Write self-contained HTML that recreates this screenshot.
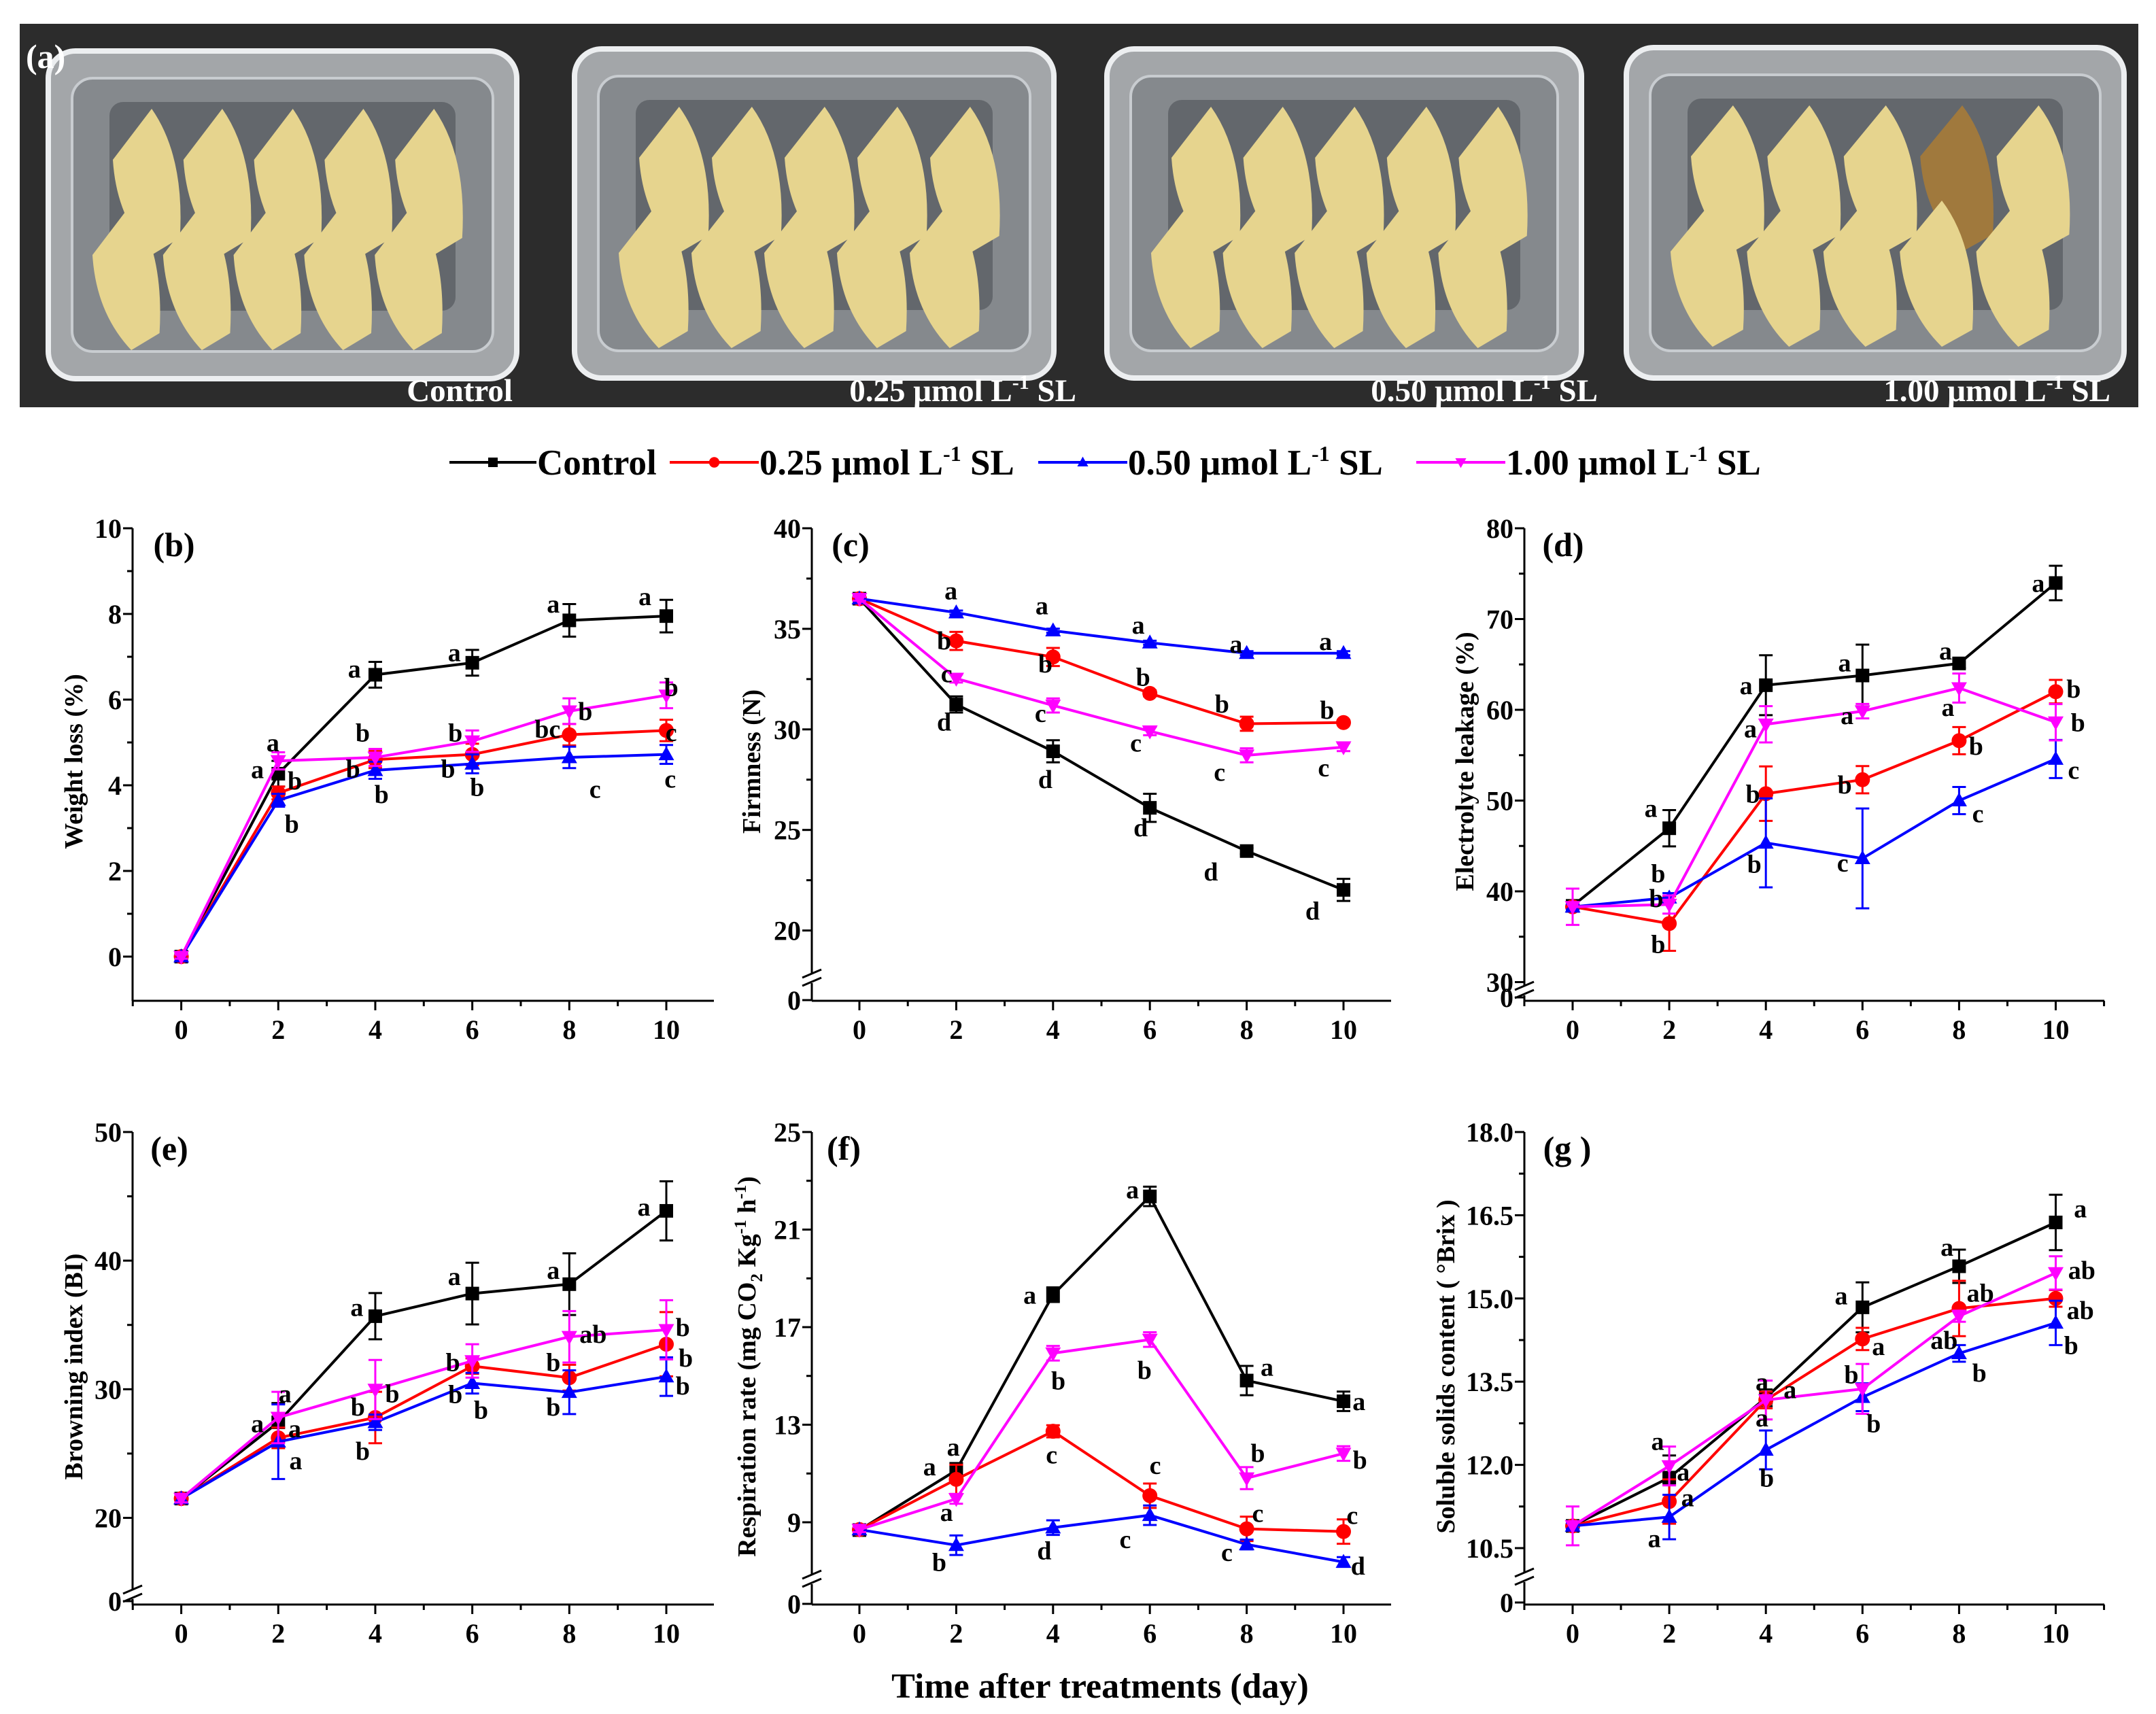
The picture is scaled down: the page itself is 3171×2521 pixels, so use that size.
<!DOCTYPE html>
<html><head><meta charset="utf-8"><style>
html,body{margin:0;padding:0;background:#fff;}
svg{display:block;font-family:"Liberation Serif",serif;font-weight:bold;}
</style></head><body>
<svg id="fig" width="3171" height="2521" viewBox="0 0 3171 2521" xmlns="http://www.w3.org/2000/svg">
<g id="photo"></g>
<g id="legend"></g>
<g id="charts"></g>
<text x="1618" y="2497" font-size="52" text-anchor="middle">Time after treatments (day)</text>
</svg>
<script>
const days=[0,2,4,6,8,10];
// (b) weight loss
const wlControl=[0,4.27,6.58,6.86,7.85,7.95];
const wlControlErr=[0.05,0.3,0.3,0.3,0.38,0.38];
const wl025=[0,3.82,4.6,4.72,5.18,5.28];
const wl025Err=[0.05,0.15,0.2,0.25,0.25,0.25];
const wl050=[0,3.65,4.35,4.5,4.65,4.72];
const wl050Err=[0.05,0.15,0.2,0.22,0.25,0.22];
const wl100=[0,4.57,4.65,5.03,5.73,6.1];
const wl100Err=[0.05,0.2,0.2,0.25,0.3,0.3];
const wlLetters=[[1.89,5.0,'a'],[1.57,4.37,'a'],[2.34,4.11,'b'],[2.28,3.1,'b'],[3.74,5.23,'b'],[3.54,4.39,'b'],[4.13,3.79,'b'],[3.57,6.72,'a'],[5.63,7.1,'a'],[5.65,5.23,'b'],[5.5,4.39,'b'],[6.1,3.96,'b'],[7.67,8.24,'a'],[8.33,5.73,'b'],[7.55,5.32,'bc'],[8.53,3.91,'c'],[9.56,8.41,'a'],[10.1,6.29,'b'],[10.1,5.24,'c'],[10.08,4.15,'c']];
// (c) firmness
const fmControl=[36.5,31.24,28.91,26.1,23.95,22.02];
const fmControlErr=[0.1,0.4,0.55,0.7,0.15,0.55];
const fm025=[36.5,34.4,33.6,31.79,30.28,30.34];
const fm025Err=[0.1,0.45,0.45,0.15,0.35,0.12];
const fm050=[36.5,35.81,34.91,34.31,33.79,33.79];
const fm050Err=[0.1,0.1,0.1,0.1,0.1,0.1];
const fm100=[36.5,32.53,31.19,29.91,28.71,29.12];
const fm100Err=[0.1,0.2,0.35,0.2,0.35,0.2];
const fmLetters=[[1.89,36.9,'a'],[1.75,34.43,'b'],[1.8,32.79,'c'],[1.75,30.38,'d'],[3.77,36.16,'a'],[3.84,33.28,'b'],[3.74,30.81,'c'],[3.84,27.53,'d'],[5.76,35.2,'a'],[5.86,32.62,'b'],[5.71,29.34,'c'],[5.81,25.12,'d'],[7.78,34.26,'a'],[7.49,31.28,'b'],[7.44,27.88,'c'],[7.26,22.93,'d'],[9.63,34.38,'a'],[9.66,30.98,'b'],[9.59,28.1,'c'],[9.36,20.98,'d']];
// (d) electrolyte leakage
const elControl=[38.4,46.95,62.71,63.78,65.11,73.97];
const elControlErr=[0.3,2.0,3.3,3.4,0.5,1.9];
const el025=[38.3,36.45,50.76,52.3,56.6,62.0];
const el025Err=[0.3,3.0,3.0,1.5,1.5,1.3];
const el050=[38.3,39.3,45.34,43.63,50.0,54.58];
const el050Err=[0.3,0.5,4.9,5.5,1.5,2.1];
const el100=[38.3,38.55,58.4,59.85,62.4,58.63];
const el100Err=[2.0,1.0,2.0,0.8,1.6,2.0];
const elLetters=[[1.62,49.16,'a'],[1.77,41.98,'b'],[1.73,39.24,'b'],[1.77,34.2,'b'],[3.59,62.71,'a'],[3.68,57.94,'a'],[3.73,50.76,'b'],[3.76,43.05,'b'],[5.63,65.19,'a'],[5.68,59.39,'a'],[5.63,51.76,'b'],[5.59,43.13,'c'],[7.72,66.53,'a'],[7.77,60.31,'a'],[8.35,56.03,'b'],[8.39,48.59,'c'],[9.64,73.97,'a'],[10.37,62.33,'b'],[10.46,58.63,'b'],[10.37,53.36,'c']];
// (e) browning index
const biControl=[21.5,27.43,35.68,37.44,38.17,43.87];
const biControlErr=[0.3,1.5,1.8,2.4,2.4,2.3];
const bi025=[21.5,26.22,27.8,31.8,30.9,33.5];
const bi025Err=[0.3,0.8,2.0,0.6,1.0,2.5];
const bi050=[21.5,25.92,27.43,30.47,29.77,30.98];
const bi050Err=[0.3,2.9,0.6,0.8,1.7,1.5];
const bi100=[21.5,27.8,29.98,32.2,34.08,34.62];
const bi100Err=[0.3,2.0,2.3,1.3,2.0,2.3];
const biLetters=[[2.14,29.68,'a'],[1.57,27.34,'a'],[2.34,26.95,'a'],[2.36,24.46,'a'],[3.62,36.38,'a'],[4.35,29.68,'b'],[3.64,28.65,'b'],[3.74,25.22,'b'],[5.63,38.78,'a'],[5.6,32.1,'b'],[5.65,29.62,'b'],[6.18,28.4,'b'],[7.67,39.26,'a'],[8.49,34.29,'ab'],[7.67,32.1,'b'],[7.67,28.65,'b'],[9.54,44.18,'a'],[10.34,34.84,'b'],[10.4,32.44,'b'],[10.34,30.29,'b']];
// (f) respiration rate
const rrControl=[8.68,11.13,18.33,22.36,14.81,13.96];
const rrControlErr=[0.1,0.3,0.3,0.4,0.6,0.4];
const rr025=[8.7,10.76,12.73,10.09,8.73,8.62];
const rr025Err=[0.1,0.6,0.25,0.5,0.5,0.5];
const rr050=[8.7,8.06,8.78,9.29,8.09,7.37];
const rr050Err=[0.1,0.4,0.3,0.4,0.2,0.2];
const rr100=[8.7,9.96,15.93,16.49,10.81,11.82];
const rr100Err=[0.1,0.2,0.3,0.3,0.45,0.3];
const rrLetters=[[1.94,12.09,'a'],[1.45,11.29,'a'],[1.8,9.42,'a'],[1.65,7.37,'b'],[3.52,18.33,'a'],[4.11,14.81,'b'],[3.97,11.77,'c'],[3.82,7.85,'d'],[5.64,22.65,'a'],[5.89,15.24,'b'],[6.11,11.34,'c'],[5.49,8.3,'c'],[8.42,15.37,'a'],[8.23,11.85,'b'],[8.23,9.37,'c'],[7.59,7.77,'c'],[10.32,13.96,'a'],[10.34,11.56,'b'],[10.18,9.29,'c'],[10.3,7.21,'d']];
// (g) soluble solids
const ssControl=[10.9,11.77,13.21,14.84,15.58,16.37];
const ssControlErr=[0.05,0.4,0.15,0.45,0.3,0.5];
const ss025=[10.9,11.34,13.17,14.27,14.82,15.0];
const ss025Err=[0.05,0.4,0.15,0.2,0.5,0.15];
const ss050=[10.9,11.06,12.27,13.22,14.01,14.56];
const ss050Err=[0.05,0.4,0.35,0.25,0.15,0.4];
const ss100=[10.9,11.98,13.17,13.37,14.68,15.46];
const ss100Err=[0.35,0.35,0.35,0.45,0.1,0.3];
const ssLetters=[[1.76,12.43,'a'],[2.29,11.88,'a'],[2.38,11.41,'a'],[1.69,10.68,'a'],[3.92,13.5,'a'],[4.5,13.36,'a'],[3.92,12.85,'a'],[4.02,11.77,'b'],[5.56,15.05,'a'],[6.33,14.14,'a'],[5.77,13.63,'b'],[6.23,12.75,'b'],[7.75,15.93,'a'],[8.44,15.1,'ab'],[7.69,14.25,'ab'],[8.42,13.66,'b'],[10.51,16.62,'a'],[10.54,15.51,'ab'],[10.51,14.79,'ab'],[10.32,14.16,'b']];

const xTickLabels=['0','2','4','6','8','10'];
const seriesNames=['control','sl-0.25','sl-0.50','sl-1.00'];
const colors=['#000000','#ff0000','#0000ff','#ff00ff'];
const NS='http://www.w3.org/2000/svg';
function mk(tag,attrs,parent){const e=document.createElementNS(NS,tag);for(const k in attrs)e.setAttribute(k,attrs[k]);parent.appendChild(e);return e;}

function marker(g,kind,cx,cy,s,color){
  let m;
  if(kind===0)m=mk('rect',{x:cx-s,y:cy-s,width:2*s,height:2*s,fill:color},g);
  else if(kind===1)m=mk('circle',{cx:cx,cy:cy,r:s*1.1,fill:color},g);
  else if(kind===2)m=mk('polygon',{points:`${cx},${cy-s*1.2} ${cx-s*1.15},${cy+s*0.85} ${cx+s*1.15},${cy+s*0.85}`,fill:color},g);
  else m=mk('polygon',{points:`${cx},${cy+s*1.2} ${cx-s*1.15},${cy-s*0.85} ${cx+s*1.15},${cy-s*0.85}`,fill:color},g);
  return m;
}

const panels=[
 {id:'b',label:'(b)',lx:256,ly:818,title:'Weight loss (%)',tx:109,ty:1120,xl:195,xr:1050,x0:266.6,x10:980,axY:1472,top:777,vA:10,yA:777,vB:0,yB:1407,
  ticks:[0,2,4,6,8,10],minor:[1,3,5,7,9],fmt:v=>String(v),brk:null,zeroY:null,
  series:[[wlControl,wlControlErr],[wl025,wl025Err],[wl050,wl050Err],[wl100,wl100Err]],letters:wlLetters},
 {id:'c',label:'(c)',lx:1251,ly:818,title:'Firmness (N)',tx:1106,ty:1120,xl:1194,xr:2046,x0:1264,x10:1976,axY:1472,top:777,vA:40,yA:777,vB:20,yB:1368.6,
  ticks:[20,25,30,35,40],minor:[22.5,27.5,32.5,37.5],fmt:v=>String(v),brk:1439,zeroY:1471,
  series:[[fmControl,fmControlErr],[fm025,fm025Err],[fm050,fm050Err],[fm100,fm100Err]],letters:fmLetters},
 {id:'d',label:'(d)',lx:2299,ly:818,title:'Electrolyte leakage (%)',tx:2155,ty:1120,xl:2242,xr:3095,x0:2313,x10:3023.5,axY:1472,top:777,vA:80,yA:777,vB:40,yB:1311,
  ticks:[30,40,50,60,70,80],minor:[35,45,55,65,75],fmt:v=>String(v),brk:1457,zeroY:1467,
  series:[[elControl,elControlErr],[el025,el025Err],[el050,el050Err],[el100,el100Err]],letters:elLetters},
 {id:'e',label:'(e)',lx:249,ly:1706,title:'Browning index (BI)',tx:109,ty:2010,xl:195,xr:1050,x0:266.6,x10:980,axY:2360,top:1665,vA:50,yA:1665,vB:20,yB:2232.5,
  ticks:[20,30,40,50],minor:[25,35,45],fmt:v=>String(v),brk:2345,zeroY:2355,
  series:[[biControl,biControlErr],[bi025,bi025Err],[bi050,bi050Err],[bi100,bi100Err]],letters:biLetters},
 {id:'f',label:'(f)',lx:1241,ly:1706,title:'RESP',tx:1099,ty:2010,xl:1194,xr:2046,x0:1264,x10:1976,axY:2360,top:1665,vA:25,yA:1665,vB:9,yB:2239,
  ticks:[9,13,17,21,25],minor:[11,15,19,23],fmt:v=>String(v),brk:2323,zeroY:2359,
  series:[[rrControl,rrControlErr],[rr025,rr025Err],[rr050,rr050Err],[rr100,rr100Err]],letters:rrLetters},
 {id:'g',label:'(g )',lx:2305,ly:1706,title:'Soluble solids content ( °Brix )',tx:2127,ty:2010,xl:2242,xr:3095,x0:2313,x10:3023.5,axY:2360,top:1665,vA:18,yA:1665,vB:10.5,yB:2277,
  ticks:[10.5,12,13.5,15,16.5,18],minor:[11.25,12.75,14.25,15.75,17.25],fmt:v=>v.toFixed(1),brk:2320,zeroY:2357,
  series:[[ssControl,ssControlErr],[ss025,ss025Err],[ss050,ss050Err],[ss100,ss100Err]],letters:ssLetters}
];

const charts=document.getElementById('charts');
panels.forEach(p=>{
  const g=mk('g',{},charts);
  
  
  const X=d=>p.x0+(d-days[0])*(p.x10-p.x0)/(days[days.length-1]-days[0]);
  const Y=v=>p.yA+(v-p.vA)*(p.yB-p.yA)/(p.vB-p.vA);
  const ya=mk('line',{x1:p.xl,y1:p.axY,x2:p.xl,y2:p.top,stroke:'#000','stroke-width':3},g);
  
  
  const xa=mk('line',{x1:p.xl,y1:p.axY,x2:p.xr,y2:p.axY,stroke:'#000','stroke-width':3},g);
  
  
  if(p.brk){
    mk('rect',{x:p.xl-4,y:p.brk-7,width:8,height:14,fill:'#fff'},g);
    const b1=mk('path',{d:`M${p.xl-14},${p.brk-1} L${p.xl+14},${p.brk-13} M${p.xl-14},${p.brk+11} L${p.xl+14},${p.brk-1}`,stroke:'#000','stroke-width':3,fill:'none'},g);
    
    
  }
  p.ticks.forEach(t=>{
    const y=Y(t);
    mk('line',{x1:p.xl-14,y1:y,x2:p.xl,y2:y,stroke:'#000','stroke-width':3},g);
    const tl=mk('text',{x:p.xl-16,y:y+14,'font-size':40,'text-anchor':'end'},g);
    tl.textContent=p.fmt(t);
    
    
  });
  p.minor.forEach(t=>{const y=Y(t);mk('line',{x1:p.xl-8,y1:y,x2:p.xl,y2:y,stroke:'#000','stroke-width':3},g);});
  if(p.zeroY){
    mk('line',{x1:p.xl-14,y1:p.zeroY,x2:p.xl,y2:p.zeroY,stroke:'#000','stroke-width':3},g);
    const zl=mk('text',{x:p.xl-16,y:p.zeroY+14,'font-size':40,'text-anchor':'end'},g);
    zl.textContent='0';
    
    
  }
  for(let d=-1;d<=11;d++){
    const x=X(d);
    if(x<p.xl-1||x>p.xr+1)continue;
    const major=days.indexOf(d)>=0;
    mk('line',{x1:x,y1:p.axY,x2:x,y2:p.axY+(major?14:8),stroke:'#000','stroke-width':3},g);
  }
  days.forEach((d,i)=>{
    const t=mk('text',{x:X(d),y:p.axY+56,'font-size':40,'text-anchor':'middle'},g);
    t.textContent=xTickLabels[i];
    
    
  });
  const lab=mk('text',{x:p.lx,y:p.ly,'font-size':50,'text-anchor':'middle'},g);
  lab.textContent=p.label;
  
  
  const yt=mk('text',{x:p.tx,y:p.ty,'font-size':38,'text-anchor':'middle',transform:`rotate(-90 ${p.tx} ${p.ty})`,dy:12},g);
  if(p.title==='RESP'){
    yt.innerHTML='Respiration rate (mg CO<tspan font-size="25" dy="10">2</tspan><tspan dy="-10"> Kg</tspan><tspan font-size="25" dy="-14">-1</tspan><tspan dy="14"> h</tspan><tspan font-size="25" dy="-14">-1</tspan><tspan dy="14">)</tspan>';
  } else yt.textContent=p.title;
  
  
  p.series.forEach((s,si)=>{
    const vals=s[0],errs=s[1],c=colors[si];
    const sg=mk('g',{},g);
    
    
    const pl=mk('polyline',{points:vals.map((v,i)=>X(days[i])+','+Y(v)).join(' '),fill:'none',stroke:c,'stroke-width':4},sg);
    
    
    vals.forEach((v,i)=>{
      const x=X(days[i]),y1=Y(v+errs[i]),y2=Y(v-errs[i]);
      const eb=mk('path',{d:`M${x},${y1} L${x},${y2} M${x-10},${y1} L${x+10},${y1} M${x-10},${y2} L${x+10},${y2}`,stroke:c,'stroke-width':3,fill:'none'},sg);
      
      
      const m=marker(sg,si,x,Y(v),10,c);
      
      
    });
  });
  p.letters.forEach(L=>{
    const t=mk('text',{x:X(L[0]),y:Y(L[1])+13,'font-size':38,'text-anchor':'middle'},g);
    t.textContent=L[2];
    
    
  });
});

// legend
const leg=document.getElementById('legend');
const legX=[[661,789],[985,1116],[1527,1658],[2083,2214]];
const legTxt=['Control','0.25 μmol L<tspan font-size="32" dy="-20">-1</tspan><tspan dy="20"> SL</tspan>','0.50 μmol L<tspan font-size="32" dy="-20">-1</tspan><tspan dy="20">  SL</tspan>','1.00 μmol L<tspan font-size="32" dy="-20">-1</tspan><tspan dy="20">  SL</tspan>'];
legX.forEach((lx,i)=>{
  const g=mk('g',{},leg);
  
  
  mk('line',{x1:lx[0],y1:680,x2:lx[1],y2:680,stroke:colors[i],'stroke-width':4},g);
  marker(g,i,(lx[0]+lx[1])/2,680,7,colors[i]);
  const t=mk('text',{x:lx[1]+1,y:698,'font-size':53},g);
  t.innerHTML=legTxt[i];
});

// photo
const ph=document.getElementById('photo');
mk('rect',{x:29,y:35,width:3116,height:564,fill:'#2c2c2c'},ph);
const boxes=[[71,75,760,557],[845,72,1550,556],[1628,72,2326,556],[2392,70,3124,556]];
const boxLabels=['Control','0.25 μmol L<tspan font-size="30" dy="-18">-1</tspan><tspan dy="18"> SL</tspan>','0.50 μmol L<tspan font-size="30" dy="-18">-1</tspan><tspan dy="18"> SL</tspan>','1.00 μmol L<tspan font-size="30" dy="-18">-1</tspan><tspan dy="18"> SL</tspan>'];
const labelRight=[754,1583,2350,3104];
boxes.forEach((b,bi)=>{
  const g=mk('g',{},ph);
  
  
  const w=b[2]-b[0],h=b[3]-b[1];
  mk('rect',{x:b[0],y:b[1],width:w,height:h,rx:40,fill:'#a3a6a9',stroke:'#eceef0','stroke-width':8},g);
  mk('rect',{x:b[0]+35,y:b[1]+40,width:w-70,height:h-80,rx:30,fill:'#85898d',stroke:'#c8ccd0','stroke-width':4},g);
  mk('rect',{x:b[0]+90,y:b[1]+75,width:w-180,height:h-175,rx:20,fill:'#63676c'},g);
  const sw=(w-170)/5;
  for(let r=0;r<2;r++)for(let k=0;k<5;k++){
    const sx=b[0]+85+k*sw+(r?-20:10), sy=b[1]+(r?225:85);
    const sl=mk('path',{d:`M${sx+sw*0.55},${sy} Q${sx+sw*1.02},${sy+70} ${sx+sw*0.95},${sy+190} L${sx+sw*0.55},${sy+215} Q${sx+sw*0.05},${sy+160} ${sx},${sy+75} Z`,fill:(bi===3&&r===0&&k===3)?'#a0793d':'#e6d48e'},g);
    
    
  }
  const t=mk('text',{x:labelRight[bi],y:590,'font-size':47,'text-anchor':'end',fill:'#fff'},g);
  t.innerHTML=boxLabels[bi];
});
const al=mk('text',{x:38,y:100,'font-size':50,fill:'#fff'},ph);
al.textContent='(a)';


</script>
</body></html>
